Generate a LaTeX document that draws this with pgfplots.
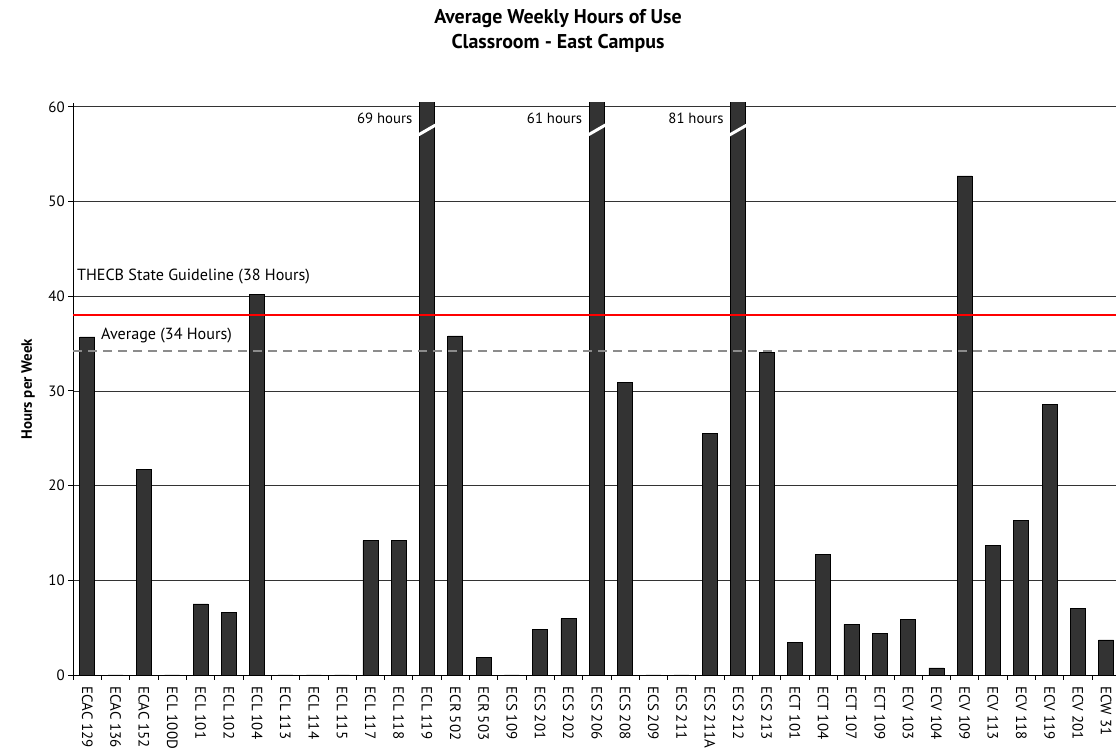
\documentclass[border=0pt]{standalone}
\usepackage{pgfplots}
\pgfplotsset{compat=1.18}
\usepackage{pgfplotstable}
\usepackage{fontspec}
\setmainfont{PT Sans}
\pgfplotstableread{
idx hours
0 35.7
1 0
2 21.7
3 0
4 7.5
5 6.6
6 40.2
7 0
8 0
9 0
10 14.2
11 14.2
12 69
13 35.8
14 1.85
15 0
16 4.8
17 5.95
18 61
19 30.9
20 0
21 0
22 25.5
23 81
24 34.1
25 3.45
26 12.7
27 5.35
28 4.35
29 5.85
30 0.75
31 52.7
32 13.7
33 16.3
34 28.6
35 7.0
36 3.7
}\roomdata
\definecolor{barfill}{HTML}{333333}
\definecolor{avggray}{HTML}{8C8C8C}
\begin{document}
\begin{tikzpicture}[x=1bp,y=1bp]
\useasboundingbox (-73.2,-75) rectangle (1042.8,675);
\begin{axis}[
  at={(0,0)}, anchor=south west,
  scale only axis, width=1047.1bp, height=572bp,
  xmin=-0.5, xmax=36.5, ymin=0, ymax=60.4,
  axis x line=bottom, axis y line=left,
  axis line style={-, black, line width=0.8bp},
  ytick={0,10,...,60},
  ymajorgrids, grid style={black!80, line width=0.7bp},
  xtick={0,...,36},
  xticklabels={ECAC 129,ECAC 136,ECAC 152,ECL 100D,ECL 101,ECL 102,ECL 104,ECL 113,ECL 114,ECL 115,ECL 117,ECL 118,ECL 119,ECR 502,ECR 503,ECS 109,ECS 201,ECS 202,ECS 206,ECS 208,ECS 209,ECS 211,ECS 211A,ECS 212,ECS 213,ECT 101,ECT 104,ECT 107,ECT 109,ECV 103,ECV 104,ECV 109,ECV 113,ECV 118,ECV 119,ECV 201,ECW 31},
  minor xtick={-0.5,0.5,...,36.5},
  major x tick style={draw=none},
  minor x tick style={black, line width=0.8bp},
  y tick style={black, line width=0.8bp},
  tick align=outside, major tick length=5bp, minor tick length=5bp,
  xticklabel style={rotate=-90, anchor=west, xshift=3bp, font=\fontsize{15}{16}\selectfont},
  yticklabel style={font=\fontsize{15}{16}\selectfont},
  /pgf/number format/assume math mode=true,
  ylabel={Hours per Week},
  ylabel style={font=\fontsize{15}{16}\selectfont\bfseries, at={(axis description cs:0,0.5)}, anchor=center, yshift=45bp},
]
\addplot[ybar, bar width=15bp, fill=barfill, draw=black, line width=0.7bp] table[x=idx, y=hours] {\roomdata};
\addplot[red, line width=2bp] coordinates {(-0.5,38) (36.5,38)};
\addplot[avggray, line width=2.2bp, dash pattern=on 9bp off 6bp] coordinates {(-0.5,34.25) (36.5,34.25)};
\draw[white, line width=3bp] (axis cs:11.68,57.0) -- (axis cs:12.32,58.1);
\draw[white, line width=3bp] (axis cs:17.68,57.0) -- (axis cs:18.32,58.1);
\draw[white, line width=3bp] (axis cs:22.68,57.0) -- (axis cs:23.32,58.1);
\node[anchor=east, font=\fontsize{14.8}{16}\selectfont, inner sep=0pt] at (axis cs:11.49,58.8) {69 hours};
\node[anchor=east, font=\fontsize{14.8}{16}\selectfont, inner sep=0pt] at (axis cs:17.49,58.8) {61 hours};
\node[anchor=east, font=\fontsize{14.8}{16}\selectfont, inner sep=0pt] at (axis cs:22.49,58.8) {81 hours};
\node[anchor=west, font=\fontsize{16.2}{18}\selectfont, inner sep=0pt] at (axis cs:-0.37,42.06) {THECB State Guideline (38 Hours)};
\node[anchor=west, font=\fontsize{16.2}{18}\selectfont, inner sep=0pt] at (axis cs:0.48,35.8) {Average (34 Hours)};
\end{axis}
\node[font=\fontsize{20}{22}\selectfont\bfseries, anchor=base] at (484.8,651) {Average Weekly Hours of Use};
\node[font=\fontsize{20}{22}\selectfont\bfseries, anchor=base] at (484.8,626) {Classroom - East Campus};
\end{tikzpicture}
\end{document}
